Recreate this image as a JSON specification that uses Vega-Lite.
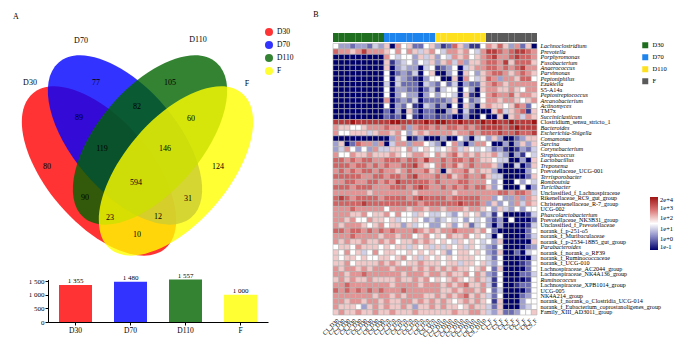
{
"$schema": "https://vega.github.io/schema/vega-lite/v6.json",
"width": 700, "height": 358, "padding": 0, "autosize": {"type": "none"},
"background": "white",
"config": {"font": "Liberation Serif", "view": {"stroke": null},
  "locale": {"number": {"decimal": ".", "thousands": " ", "grouping": [3], "currency": ["", ""]}},
  "axis": {"labelColor": "#000", "domainColor": "#000", "tickColor": "#000"},
  "legend": {"labelColor": "#000"}},
"datasets": {
 "samples": [
  {"i":1,"s":"C1_D30","grp":"D30"},{"i":2,"s":"C2_D30","grp":"D30"},{"i":3,"s":"C3_D30","grp":"D30"},{"i":4,"s":"C4_D30","grp":"D30"},{"i":5,"s":"C5_D30","grp":"D30"},{"i":6,"s":"C6_D30","grp":"D30"},{"i":7,"s":"C7_D30","grp":"D30"},{"i":8,"s":"C8_D30","grp":"D30"},{"i":9,"s":"C9_D30","grp":"D30"},
  {"i":10,"s":"C1_D70","grp":"D70"},{"i":11,"s":"C2_D70","grp":"D70"},{"i":12,"s":"C3_D70","grp":"D70"},{"i":13,"s":"C4_D70","grp":"D70"},{"i":14,"s":"C5_D70","grp":"D70"},{"i":15,"s":"C6_D70","grp":"D70"},{"i":16,"s":"C7_D70","grp":"D70"},{"i":17,"s":"C8_D70","grp":"D70"},{"i":18,"s":"C9_D70","grp":"D70"},
  {"i":19,"s":"C1_D110","grp":"D110"},{"i":20,"s":"C2_D110","grp":"D110"},{"i":21,"s":"C3_D110","grp":"D110"},{"i":22,"s":"C4_D110","grp":"D110"},{"i":23,"s":"C5_D110","grp":"D110"},{"i":24,"s":"C6_D110","grp":"D110"},{"i":25,"s":"C7_D110","grp":"D110"},{"i":26,"s":"C8_D110","grp":"D110"},{"i":27,"s":"C9_D110","grp":"D110"},
  {"i":28,"s":"C1_F","grp":"F"},{"i":29,"s":"C2_F","grp":"F"},{"i":30,"s":"C3_F","grp":"F"},{"i":31,"s":"C4_F","grp":"F"},{"i":32,"s":"C5_F","grp":"F"},{"i":33,"s":"C6_F","grp":"F"},{"i":34,"s":"C7_F","grp":"F"},{"i":35,"s":"C8_F","grp":"F"},{"i":36,"s":"C9_F","grp":"F"}
 ],
 "hm": [
  {"o":1,"g":"Lachnoclostridium","v":[5,3,3,2,3,3,2,4,3,6,0,7,5,6,2,2,5,6,3,1,2,8,6,3,1,1,5,7,6,8,6,3,7,2,6,0]},
  {"o":2,"g":"Prevotella","v":[8,7,7,6,7,9,7,7,7,6,5,7,5,7,6,4,6,7,5,4,7,7,6,7,5,4,7,9,9,8,7,8,9,9,8,7]},
  {"o":3,"g":"Porphyromonas","v":[0,0,0,0,0,0,0,0,0,7,5,4,5,5,3,6,4,6,3,5,4,7,6,7,5,6,7,8,9,7,7,8,9,8,8,7]},
  {"o":4,"g":"Fusobacterium","v":[0,0,0,0,0,0,0,0,0,6,1,3,4,5,3,5,4,6,3,6,7,4,7,3,6,6,7,8,8,7,9,6,8,8,8,6]},
  {"o":5,"g":"Anaerococcus","v":[0,0,0,0,0,0,0,0,0,6,0,3,4,3,3,0,4,5,1,2,3,5,0,4,6,7,7,8,8,7,8,7,8,9,7,7]},
  {"o":6,"g":"Parvimonas","v":[0,0,0,0,0,0,0,0,0,5,0,2,3,2,4,0,5,6,0,0,3,5,0,6,5,3,6,7,8,8,7,6,7,8,7,6]},
  {"o":7,"g":"Peptoniphilus","v":[0,0,0,0,0,0,0,0,0,5,0,4,3,2,1,0,3,5,5,0,0,6,0,7,5,4,6,8,7,3,7,7,6,8,8,5]},
  {"o":8,"g":"Ezakiella","v":[0,0,0,0,0,0,0,0,0,4,0,4,2,2,2,0,4,3,2,5,2,4,0,3,2,2,6,7,8,7,6,7,7,7,7,7]},
  {"o":9,"g":"S5-A14a","v":[0,0,0,0,0,0,0,0,0,5,0,3,3,2,2,0,2,4,1,4,5,5,0,5,3,0,6,7,7,6,6,7,6,5,7,7]},
  {"o":10,"g":"Peptostreptococcus","v":[0,0,0,0,0,0,0,0,0,5,0,3,5,3,3,0,3,5,3,5,5,4,0,6,1,0,5,7,8,7,7,8,6,7,7,6]},
  {"o":11,"g":"Arcanobacterium","v":[0,0,0,0,0,0,0,0,0,7,0,2,3,2,4,0,2,2,2,2,3,6,0,5,2,3,5,7,7,6,7,7,6,5,6,7]},
  {"o":12,"g":"Actinomyces","v":[0,0,0,0,0,0,0,0,0,5,0,3,2,5,1,0,4,3,1,3,0,5,0,6,3,0,6,7,6,6,5,6,8,7,2,5]},
  {"o":13,"g":"TM7x","v":[0,0,0,0,0,0,0,0,0,2,0,3,0,6,2,0,2,2,0,0,3,6,0,4,1,0,0,0,6,8,4,6,7,8,1,6]},
  {"o":14,"g":"Succiniclasticum","v":[0,0,0,0,0,0,0,0,0,2,1,2,0,5,1,0,2,2,1,2,2,0,0,3,0,0,5,0,0,6,0,6,7,4,7,6]},
  {"o":15,"g":"Clostridium_sensu_stricto_1","v":[9,9,9,10,9,9,9,9,9,9,10,10,9,9,9,9,10,9,10,10,9,9,10,9,9,9,10,9,10,9,9,10,9,9,9,10]},
  {"o":16,"g":"Bacteroides","v":[7,6,6,5,5,6,7,7,7,8,7,7,8,3,7,8,8,7,8,7,8,8,7,8,7,8,9,9,9,9,8,9,10,9,9,9]},
  {"o":17,"g":"Escherichia-Shigella","v":[7,5,5,6,6,6,4,6,7,7,6,7,5,3,6,7,6,7,7,7,7,6,7,7,8,7,8,8,8,9,8,8,9,8,8,9]},
  {"o":18,"g":"Comamonas","v":[0,0,0,0,0,0,0,0,0,0,3,7,5,0,1,3,0,0,0,3,0,0,5,3,0,4,5,3,6,3,0,0,2,3,6,6]},
  {"o":19,"g":"Sarcina","v":[3,6,0,2,8,7,7,3,7,0,4,7,7,3,7,7,5,4,3,0,5,7,3,0,3,7,7,5,0,0,3,0,3,6,3,6]},
  {"o":20,"g":"Corynebacterium","v":[3,4,7,5,3,5,3,7,4,4,6,6,5,7,4,5,6,5,4,5,6,7,4,6,5,4,5,4,2,3,1,0,1,3,2,4]},
  {"o":21,"g":"Streptococcus","v":[7,5,5,7,6,6,7,6,6,6,7,6,5,6,7,7,6,5,7,6,7,8,6,7,6,7,6,6,7,4,3,0,3,1,5,4]},
  {"o":22,"g":"Lactobacillus","v":[8,8,7,8,7,8,8,7,7,8,8,8,7,8,8,7,9,7,7,8,7,8,8,7,8,7,6,6,5,4,4,0,0,3,0,6]},
  {"o":23,"g":"Treponema","v":[8,8,8,7,8,8,7,8,7,8,7,7,8,8,9,7,6,5,7,8,7,8,6,7,8,7,7,7,6,3,0,0,4,0,2,6]},
  {"o":24,"g":"Prevotellaceae_UCG-001","v":[7,8,7,8,7,8,8,7,8,7,7,6,7,8,7,7,8,6,7,0,6,7,7,8,6,7,6,6,3,0,0,0,0,0,3,5]},
  {"o":25,"g":"Terrisporobacter","v":[8,8,8,8,8,7,7,8,8,7,8,8,7,8,9,7,7,7,8,7,8,6,7,8,7,7,8,6,4,4,0,0,0,0,2,6]},
  {"o":26,"g":"Romboutsia","v":[7,7,8,8,7,7,8,8,7,8,7,9,8,8,8,8,8,7,8,7,7,7,8,8,7,7,7,5,3,5,0,0,5,3,5,4]},
  {"o":27,"g":"Turicibacter","v":[8,8,8,7,8,8,8,7,7,7,8,8,8,7,8,9,8,7,7,8,7,8,7,8,7,8,8,6,3,5,0,0,0,5,0,3]},
  {"o":28,"g":"Unclassified_f_Lachnospiraceae","v":[7,7,7,7,7,7,6,7,7,7,7,7,7,7,6,7,7,7,7,7,7,6,7,7,7,7,7,7,7,8,8,7,8,8,7,4]},
  {"o":29,"g":"Rikenellaceae_RC9_gut_group","v":[8,9,8,7,8,8,8,8,7,8,8,8,8,7,8,9,8,8,8,8,7,8,8,8,8,8,7,7,3,5,3,3,7,3,7,6]},
  {"o":30,"g":"Christensenellaceae_R-7_group","v":[8,8,8,8,8,9,8,8,8,8,8,8,8,8,8,7,8,8,8,8,8,8,9,8,8,8,7,3,6,3,5,3,7,4,7,6]},
  {"o":31,"g":"UCG-002","v":[7,7,7,8,7,7,7,7,7,5,7,7,7,6,7,7,6,7,7,6,7,7,7,6,7,7,6,5,3,6,4,3,5,3,5,5]},
  {"o":32,"g":"Phascolarctobacterium","v":[7,7,7,6,6,7,5,6,6,7,5,7,5,5,4,6,5,4,4,5,4,3,5,6,5,6,3,4,1,5,0,0,0,0,1,4]},
  {"o":33,"g":"Prevotellaceae_NK3B31_group","v":[7,7,6,7,5,5,7,6,6,5,6,4,5,5,6,5,3,4,3,4,5,4,5,3,5,4,5,3,1,3,0,5,0,0,0,2]},
  {"o":34,"g":"Unclassified_f_Prevotellaceae","v":[7,6,7,7,7,6,5,6,7,5,6,6,3,6,4,5,5,3,3,5,6,3,5,6,2,4,5,3,0,3,0,0,0,0,1,4]},
  {"o":35,"g":"norank_f_p-251-o5","v":[8,8,7,8,8,7,8,7,8,7,8,7,7,7,8,7,6,7,6,7,7,8,7,7,7,6,7,5,2,0,0,0,0,0,2,5]},
  {"o":36,"g":"norank_f_Muribaculaceae","v":[7,7,7,8,7,7,7,7,6,7,7,6,7,7,5,6,7,5,6,5,7,6,6,7,5,6,5,4,0,5,0,0,0,0,2,4]},
  {"o":37,"g":"norank_f_p-2534-18B5_gut_group","v":[7,6,7,6,6,7,6,6,7,6,7,5,6,6,7,6,7,6,5,6,5,4,6,5,6,5,4,5,3,6,0,0,0,0,0,6]},
  {"o":38,"g":"Parabacteroides","v":[5,6,6,5,7,6,6,6,5,6,5,6,6,4,6,5,6,4,6,4,6,5,6,4,6,5,4,3,2,5,0,0,0,0,2,3]},
  {"o":39,"g":"norank_f_norank_o_RF39","v":[6,5,7,5,6,4,5,7,5,6,6,5,5,6,5,6,5,6,5,6,3,5,6,6,5,6,5,3,2,6,0,0,2,0,4,5]},
  {"o":40,"g":"norank_f_Ruminococcaceae","v":[6,5,6,6,5,6,5,5,6,6,5,6,7,5,6,4,6,5,6,5,6,5,6,6,6,5,5,4,2,5,0,0,0,0,0,4]},
  {"o":41,"g":"norank_f_UCG-010","v":[6,6,7,5,6,6,6,6,7,6,7,6,5,6,6,7,6,6,6,5,6,6,4,6,6,5,6,4,3,5,0,0,0,1,2,5]},
  {"o":42,"g":"Lachnospiraceae_AC2044_group","v":[7,6,7,7,6,7,6,7,7,7,6,7,7,7,6,7,6,7,6,7,6,7,6,6,5,6,7,5,2,6,0,0,0,0,2,5]},
  {"o":43,"g":"Lachnospiraceae_NK4A136_group","v":[7,7,6,7,7,8,7,7,7,7,7,7,6,7,7,7,6,7,7,6,7,6,6,7,5,7,6,3,2,5,0,0,0,2,2,4]},
  {"o":44,"g":"Ruminococcus","v":[6,7,6,7,6,6,7,6,6,6,6,7,6,6,7,6,7,5,6,5,6,7,6,5,6,7,6,4,1,5,0,0,0,0,1,5]},
  {"o":45,"g":"Lachnospiraceae_XPB1014_group","v":[7,7,8,7,7,7,7,7,7,7,6,7,7,7,7,6,7,7,7,6,7,6,7,8,6,6,7,4,1,5,0,0,1,2,2,5]},
  {"o":46,"g":"UCG-005","v":[8,7,8,7,8,7,8,7,8,7,7,7,8,7,7,7,7,7,7,6,6,7,6,7,7,6,7,5,2,4,0,0,0,0,2,5]},
  {"o":47,"g":"NK4A214_group","v":[7,7,7,7,7,7,7,6,7,7,6,7,6,7,7,7,6,6,7,6,7,6,7,8,6,7,6,4,2,5,0,0,0,2,3,5]},
  {"o":48,"g":"norank_f_norank_o_Clostridia_UCG-014","v":[7,7,6,7,7,6,7,7,6,7,6,6,7,7,6,7,6,7,6,7,6,5,6,7,6,7,6,5,1,6,0,0,0,3,5,5]},
  {"o":49,"g":"norank_f_Eubacterium_coprostanoligenes_group","v":[7,6,6,6,5,3,6,7,6,7,6,6,7,6,3,6,6,7,6,7,6,6,5,6,7,6,6,4,2,6,0,0,0,3,4,5]},
  {"o":50,"g":"Family_XIII_AD3011_group","v":[6,7,6,6,7,6,6,7,6,6,7,6,6,6,7,6,6,6,6,6,6,7,6,6,7,7,6,4,3,6,2,2,3,5,5,6]}
 ]
},
"layer": [
 {
  "data": {"values": [
   {"set":"D30","cx":99,"cy":171,"ang":49.5},
   {"set":"D70","cx":125,"cy":140,"ang":49.5},
   {"set":"D110","cx":150,"cy":140,"ang":-49.5},
   {"set":"F","cx":176,"cy":171,"ang":-49.5}
  ]},
  "mark": {"type": "point", "shape": "M 1 0 C 1 0.282 0.552 0.51 0 0.51 C -0.552 0.51 -1 0.282 -1 0 C -1 -0.282 -0.552 -0.51 0 -0.51 C 0.552 -0.51 1 -0.282 1 0 Z", "size": 41616, "filled": true, "strokeWidth": 0, "opacity": 0.8},
  "encoding": {
   "x": {"field": "cx", "type": "quantitative", "scale": {"domain": [0, 700], "range": [0, 700], "nice": false, "zero": false}, "axis": null},
   "y": {"field": "cy", "type": "quantitative", "scale": {"domain": [0, 358], "range": [0, 358], "nice": false, "zero": false}, "axis": null},
   "color": {"field": "set", "type": "nominal", "scale": {"domain": ["D30","D70","D110","F"], "range": ["#ff0000","#0000ff","#006400","#ffff00"]},
     "legend": {"orient": "none", "legendX": 264, "legendY": 27, "title": null, "symbolType": "circle", "symbolSize": 64, "symbolOpacity": 0.8, "labelFontSize": 7.5, "rowPadding": 4, "labelOffset": 3}},
   "angle": {"field": "ang", "type": "quantitative", "scale": null}
  }
 },
 {
  "data": {"values": [
   {"t":"A","x":16,"y":17},{"t":"B","x":316,"y":15},
   {"t":"D30","x":30,"y":83},{"t":"D70","x":81,"y":41},{"t":"D110","x":198,"y":40},{"t":"F","x":247,"y":84},
   {"t":"80","x":47,"y":167},{"t":"77","x":96,"y":83},{"t":"105","x":170,"y":83},{"t":"124","x":218,"y":167},
   {"t":"89","x":79,"y":118},{"t":"82","x":137,"y":107},{"t":"60","x":191,"y":119},
   {"t":"119","x":102,"y":149},{"t":"146","x":165,"y":149},{"t":"594","x":136,"y":183},
   {"t":"90","x":85,"y":198},{"t":"31","x":188,"y":199},{"t":"23","x":110,"y":218},{"t":"12","x":158,"y":217},{"t":"10","x":137,"y":235}
  ]},
  "mark": {"type": "text", "fontSize": 8, "color": "#000"},
  "encoding": {
   "x": {"field": "x", "type": "quantitative", "scale": {"domain": [0, 700], "range": [0, 700], "nice": false, "zero": false}, "axis": null},
   "y": {"field": "y", "type": "quantitative", "scale": {"domain": [0, 358], "range": [0, 358], "nice": false, "zero": false}, "axis": null},
   "text": {"field": "t"}
  }
 },
 {
  "data": {"values": [{"grp":"D30","n":1355},{"grp":"D70","n":1480},{"grp":"D110","n":1557},{"grp":"F","n":1000}]},
  "layer": [
   {"mark": {"type": "bar", "opacity": 0.8},
    "encoding": {"color": {"field": "grp", "type": "nominal", "scale": {"domain": ["D30","D70","D110","F"], "range": ["#ff0000","#0000ff","#006400","#ffff00"]}, "legend": null}}},
   {"mark": {"type": "text", "dy": -4, "fontSize": 7, "color": "#000"},
    "encoding": {"text": {"field": "n", "type": "quantitative", "format": ",d"}}}
  ],
  "encoding": {
   "x": {"field": "grp", "type": "nominal", "sort": null, "scale": {"domain": ["D30","D70","D110","F"], "range": [48, 268], "paddingInner": 0.4, "paddingOuter": 0.2},
     "axis": {"orient": "bottom", "offset": -36, "title": null, "labelAngle": 0, "labelFontSize": 7.5, "tickSize": 3, "labelPadding": 1}},
   "y": {"field": "n", "type": "quantitative", "scale": {"domain": [0, 1560], "range": [322, 279.5], "nice": false},
     "axis": {"orient": "left", "offset": -48, "title": null, "values": [0, 500, 1000, 1500], "format": ",d", "labelFontSize": 7, "tickSize": 3, "grid": false, "labelPadding": 1}}
  }
 },
 {
  "data": {"name": "samples"},
  "mark": {"type": "rect"},
  "encoding": {
   "x": {"field": "s", "type": "nominal", "sort": {"field": "i", "op": "min"}, "scale": {"range": [333, 537], "paddingInner": 0, "paddingOuter": 0}, "axis": null},
   "y": {"datum": "ann", "type": "nominal", "scale": {"range": [33, 42], "paddingInner": 0, "paddingOuter": 0}, "axis": null},
   "color": {"field": "grp", "type": "nominal", "scale": {"domain": ["D30","D70","D110","F"], "range": ["#1f6e1f","#1c84ec","#ffe01e","#5a5a5a"]},
     "legend": {"orient": "none", "legendX": 642, "legendY": 42, "title": null, "symbolType": "square", "symbolSize": 36, "symbolStrokeWidth": 0, "labelFontSize": 6.5, "rowPadding": 5, "labelOffset": 4}}
  }
 },
 {
  "data": {"name": "hm"},
  "transform": [
   {"flatten": ["v"]},
   {"window": [{"op": "row_number", "as": "i"}], "groupby": ["g"]},
   {"lookup": "i", "from": {"data": {"name": "samples"}, "key": "i", "fields": ["s"]}}
  ],
  "mark": {"type": "rect", "stroke": "#b4b4b4", "strokeWidth": 0.6},
  "encoding": {
   "x": {"field": "s", "type": "nominal", "sort": {"field": "i", "op": "min"}, "scale": {"range": [333, 537], "paddingInner": 0, "paddingOuter": 0},
     "axis": {"orient": "bottom", "offset": -43, "title": null, "labelAngle": -45, "labelFontSize": 6, "ticks": false, "domain": false, "labelPadding": 2, "labelOverlap": false}},
   "y": {"field": "g", "type": "nominal", "sort": {"field": "o", "op": "min"}, "scale": {"range": [43.5, 315], "paddingInner": 0, "paddingOuter": 0},
     "axis": {"orient": "right", "offset": -163, "title": null, "ticks": false, "domain": false, "labelFontSize": 6.1, "labelPadding": 3, "labelOverlap": false,
       "labelFontStyle": {"condition": {"test": "test(regexp('^[A-Z][a-z]+(-[A-Z][a-z]+)?$'), datum.value)", "value": "italic"}, "value": "normal"}}},
   "color": {"field": "v", "type": "quantitative", "scale": {"domain": [0, 2.5, 5, 7.5, 10], "range": ["#00006b", "#8787c4", "#ffffff", "#dc7878", "#a01414"], "interpolate": "rgb"},
     "legend": {"orient": "none", "legendX": 650, "legendY": 197, "title": null, "direction": "vertical", "gradientLength": 53, "gradientThickness": 8, "values": [0, 2, 4, 6, 8, 10],
       "labelExpr": "['1e-1','1e+0','1e+1','1e+2','1e+3','2e+4'][round(datum.value/2)]", "labelFontSize": 6.5, "labelOverlap": false, "gradientStrokeWidth": 0}}
  }
 }
],
"resolve": {"scale": {"x": "independent", "y": "independent", "color": "independent", "angle": "independent"}}
}
